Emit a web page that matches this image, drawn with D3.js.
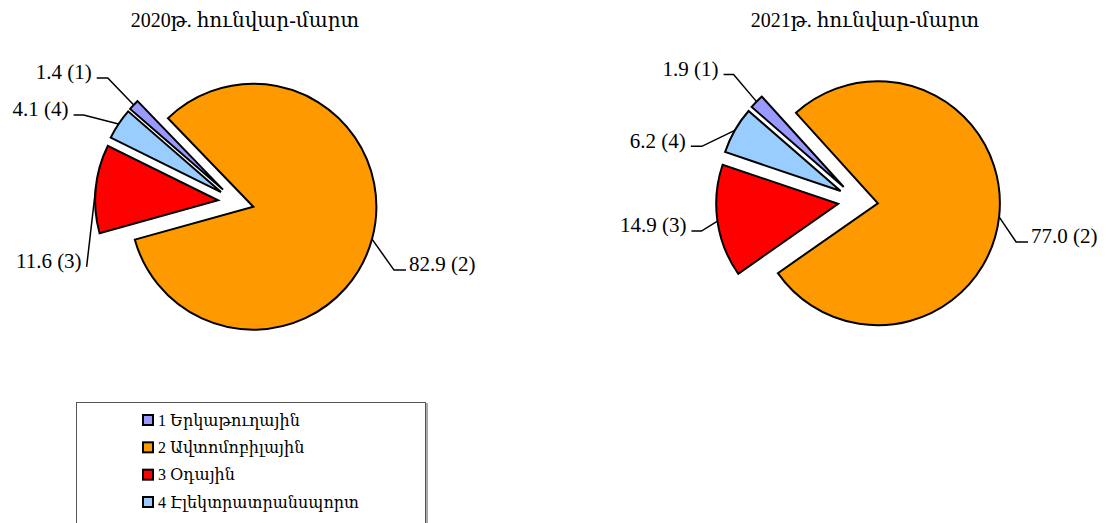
<!DOCTYPE html>
<html lang="hy">
<head>
    <meta charset="UTF-8">
    <title>Pie 2020-2021</title>
    <script src="https://d3js.org/d3.v7.min.js"></script>
    <style>
        body {
            margin: 0;
            padding: 0;
            background: #fff;
            font-family: "Liberation Serif", "DejaVu Serif", serif;
        }
        svg { display: block; }
    </style>
</head>
<body>
    <svg width="1113" height="523"></svg>
    <script>
        // data
        const categories = ["1 Երկաթուղային", "2 Ավտոմոբիլային", "3 Օդային", "4 Էլեկտրատրանսպորտ"];
        const labelIds = ["(1)", "(2)", "(3)", "(4)"];
        const colors = ["#9999ff", "#ff9900", "#ff0000", "#99ccff"];
        const titles = ["2020թ. հունվար-մարտ", "2021թ. հունվար-մարտ"];
        const values2020 = [1.4, 82.9, 11.6, 4.1];
        const values2021 = [1.9, 77.0, 14.9, 6.2];

        const svg = d3.select("svg");

        // layout for each pie: center, radius, explode distance, label elbows
        const charts = [
            {
                values: values2020, title: titles[0], cx: 236, cy: 202, r: 123, explode: 18,
                titleX: 245,
                labels: [
                    {ex: -26, ey: -27, h: 11, side: "left"},
                    {ex: 22, ey: 31, h: 12, side: "right"},
                    {ex: -9, ey: 78, h: 0, side: "left"},
                    {ex: -35, ey: -9, h: 10, side: "left"}
                ]
            },
            {
                values: values2021, title: titles[1], cx: 858, cy: 201, r: 122, explode: 20,
                titleX: 865,
                labels: [
                    {ex: -23, ey: -27, h: 10, side: "left"},
                    {ex: 17, ey: 25, h: 12, side: "right"},
                    {ex: -16, ey: 10, h: 10, side: "left"},
                    {ex: -33, ey: 16, h: 11, side: "left"}
                ]
            }
        ];

        const startDeg = 311;

        charts.forEach(c => {
            const pie = d3.pie().sort(null)
                .startAngle(startDeg * Math.PI / 180)
                .endAngle(startDeg * Math.PI / 180 + 2 * Math.PI);
            const arcs = pie(c.values);
            const arc = d3.arc().innerRadius(0).outerRadius(c.r);

            svg.append("text")
               .attr("x", c.titleX)
               .attr("y", 27)
               .attr("text-anchor", "middle")
               .style("font-size", "20px")
               .text(c.title);

            const g = svg.append("g").attr("transform", `translate(${c.cx},${c.cy})`);

            arcs.forEach((a, i) => {
                const mid = (a.startAngle + a.endAngle) / 2;
                const ox = Math.sin(mid) * c.explode;
                const oy = -Math.cos(mid) * c.explode;
                g.append("path")
                 .attr("d", arc(a))
                 .attr("transform", `translate(${ox},${oy})`)
                 .attr("fill", colors[i])
                 .attr("stroke", "#000")
                 .attr("stroke-width", 2)
                 .attr("stroke-linejoin", "miter");

                // leader line from the outer arc midpoint
                const rr = c.r + c.explode;
                const px = Math.sin(mid) * rr;
                const py = -Math.cos(mid) * rr;
                const L = c.labels[i];
                const elbowX = px + L.ex;
                const elbowY = py + L.ey;
                const endX = L.side === "right" ? elbowX + L.h : elbowX - L.h;
                g.append("polyline")
                 .attr("points", `${px},${py} ${elbowX},${elbowY} ${endX},${elbowY}`)
                 .attr("fill", "none")
                 .attr("stroke", "#000")
                 .attr("stroke-width", 1.5);

                g.append("text")
                 .attr("x", L.side === "right" ? endX + 3 : endX - 5)
                 .attr("y", elbowY - 6)
                 .attr("dy", "0.35em")
                 .attr("text-anchor", L.side === "right" ? "start" : "end")
                 .style("font-size", "21px")
                 .text(d3.format(".1f")(c.values[i]) + " " + labelIds[i]);
            });
        });

        // legend
        const legend = svg.append("g");
        legend.append("rect")
              .attr("x", 76.5).attr("y", 402.5)
              .attr("width", 349).attr("height", 140)
              .attr("fill", "#fff")
              .attr("stroke", "#555")
              .attr("stroke-width", 1);
        legend.append("line")
              .attr("x1", 427).attr("y1", 403).attr("x2", 427).attr("y2", 523)
              .attr("stroke", "#aaa").attr("stroke-width", 2);

        const ly = d3.scalePoint().domain(categories).range([420, 502]);
        categories.forEach((cat, i) => {
            legend.append("rect")
                  .attr("x", 143).attr("y", ly(cat) - 5)
                  .attr("width", 10).attr("height", 10)
                  .attr("fill", colors[i])
                  .attr("stroke", "#000")
                  .attr("stroke-width", 2);
            legend.append("text")
                  .attr("x", 158).attr("y", ly(cat))
                  .attr("dy", "0.35em")
                  .style("font-size", "16px")
                  .text(cat);
        });
    </script>
</body>
</html>
